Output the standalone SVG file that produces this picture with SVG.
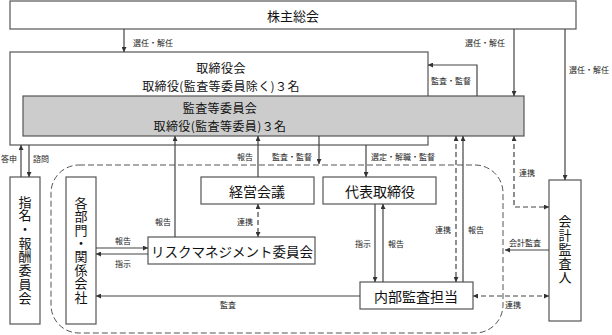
<svg xmlns="http://www.w3.org/2000/svg" width="612" height="335" viewBox="0 0 612 335">
<defs>
<marker id="ah" viewBox="0 0 10 10" refX="10" refY="5" markerWidth="5" markerHeight="5" orient="auto-start-reverse" markerUnits="userSpaceOnUse">
<path d="M0,0 L10,5 L0,10 z" fill="#333"/>
</marker>
<style>
.box{fill:#fff;stroke:#555;stroke-width:1.2}
.gray{fill:#cccccc;stroke:#555;stroke-width:1.2}
.t{font-family:"Noto Sans CJK JP","Noto Sans CJK SC",sans-serif;font-size:13px;fill:#111;text-anchor:middle;dominant-baseline:central}
.t2{font-family:"Noto Sans CJK JP","Noto Sans CJK SC",sans-serif;font-size:12px;fill:#111;text-anchor:middle;dominant-baseline:central;letter-spacing:0.4px}
.v{font-family:"Noto Sans CJK JP","Noto Sans CJK SC",sans-serif;font-size:13px;fill:#111;text-anchor:middle;writing-mode:vertical-rl}
.l{font-family:"Noto Sans CJK JP","Noto Sans CJK SC",sans-serif;font-size:8px;fill:#222;dominant-baseline:central}
.ln{fill:none;stroke:#444;stroke-width:1.2}
.a{marker-end:url(#ah)}
.b{marker-start:url(#ah);marker-end:url(#ah)}
.d{stroke-dasharray:5,3}
</style>
</defs>
<rect x="51" y="165" width="452" height="168" rx="28" ry="28" fill="none" stroke="#555" stroke-width="1" stroke-dasharray="6,3"/>
<g id="kabunushi"><rect class="box" x="10" y="1" width="566" height="28"/><text class="t" x="293" y="15">株主総会</text></g>
<g id="torishimariyakukai"><rect class="box" x="10" y="52" width="418" height="93"/><text class="t2" x="221" y="67.5">取締役会</text><text class="t2" x="221" y="85">取締役(監査等委員除く)３名</text></g>
<g id="kansatou"><rect class="gray" x="23" y="96" width="501" height="40"/><text class="t2" x="220" y="107.5">監査等委員会</text><text class="t2" x="220" y="125">取締役(監査等委員)３名</text></g>
<g id="shimei"><rect class="box" x="10" y="177" width="30" height="147"/><text class="v" x="25" y="250" style="letter-spacing:0.7px">指名・報酬委員会</text></g>
<g id="kakubumon"><rect class="box" x="66" y="177" width="30" height="147"/><text class="v" x="81" y="250" style="letter-spacing:0.43px">各部門・関係会社</text></g>
<g id="keiei"><rect class="box" x="201" y="177" width="113" height="27"/><text class="t" x="257" y="191" style="font-size:14px">経営会議</text></g>
<g id="daihyou"><rect class="box" x="323" y="177" width="113" height="27"/><text class="t" x="380" y="191" style="font-size:14px">代表取締役</text></g>
<g id="risk"><rect class="box" x="148" y="237" width="167" height="27"/><text class="t" x="232" y="251" style="font-size:13.5px">リスクマネジメント委員会</text></g>
<g id="naibu"><rect class="box" x="360" y="282" width="113" height="27"/><text class="t" x="416" y="296" style="font-size:14px">内部監査担当</text></g>
<g id="kaikei"><rect class="box" x="549" y="180" width="32" height="141"/><text class="v" x="565" y="250" style="letter-spacing:1px">会計監査人</text></g>
<g id="connectors">
<path class="ln a" d="M124,29 V52"/>
<path class="ln a" d="M514,29 V96"/>
<path class="ln a" d="M477,96 V65 H428"/>
<path class="ln a" d="M565,29 V180"/>
<path class="ln a" d="M21,177 V145"/>
<path class="ln a" d="M29,145 V177"/>
<path class="ln a" d="M175,237 V136"/>
<path class="ln a" d="M258,177 V136"/>
<path class="ln a" d="M319,136 V164"/>
<path class="ln a" d="M366,145 V177"/>
<path class="ln b d" d="M258,204 V237"/>
<path class="ln a" d="M96,248 H148"/>
<path class="ln a" d="M148,254 H96"/>
<path class="ln a" d="M360,296 H96"/>
<path class="ln a" d="M375,204 V282"/>
<path class="ln a" d="M383,282 V204"/>
<path class="ln b d" d="M456,136 V282"/>
<path class="ln a" d="M463,282 V136"/>
<path class="ln b d" d="M514,136 V207 H549"/>
<path class="ln a" d="M549,250 H505"/>
<path class="ln b d" d="M473,296 H549"/>
</g>
<g id="labels">
<text class="l" x="133" y="42">選任・解任</text>
<text class="l" x="465" y="42">選任・解任</text>
<text class="l" x="431" y="80">監査・監督</text>
<text class="l" x="569" y="69">選任・解任</text>
<text class="l" x="1" y="158">答申</text>
<text class="l" x="33" y="158">諮問</text>
<text class="l" x="237" y="156">報告</text>
<text class="l" x="272" y="156">監査・監督</text>
<text class="l" x="371" y="156">選定・解職・監督</text>
<text class="l" x="155" y="221">報告</text>
<text class="l" x="237" y="221">連携</text>
<text class="l" x="115" y="240">報告</text>
<text class="l" x="115" y="263">指示</text>
<text class="l" x="220" y="304">監査</text>
<text class="l" x="355" y="243">指示</text>
<text class="l" x="388" y="243">報告</text>
<text class="l" x="435" y="229">連携</text>
<text class="l" x="468" y="229">報告</text>
<text class="l" x="519" y="172">連携</text>
<text class="l" x="509" y="242">会計監査</text>
<text class="l" x="505" y="304">連携</text>
</g>
</svg>
